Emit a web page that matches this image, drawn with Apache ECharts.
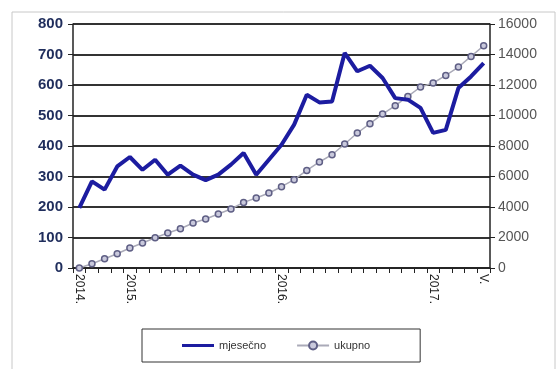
<!DOCTYPE html>
<html>
<head>
<meta charset="utf-8">
<script src="https://cdn.jsdelivr.net/npm/echarts@6/dist/echarts.min.js"></script>
<style>
  html, body { margin: 0; padding: 0; background: #fff; }
  #chart { width: 560px; height: 369px; }
</style>
</head>
<body>
<div id="chart"></div>
<script>
  // mjeseci od IX. 2014. do V. 2017.
  var months = [
    '2014-09', '2014-10', '2014-11', '2014-12',
    '2015-01', '2015-02', '2015-03', '2015-04', '2015-05', '2015-06',
    '2015-07', '2015-08', '2015-09', '2015-10', '2015-11', '2015-12',
    '2016-01', '2016-02', '2016-03', '2016-04', '2016-05', '2016-06',
    '2016-07', '2016-08', '2016-09', '2016-10', '2016-11', '2016-12',
    '2017-01', '2017-02', '2017-03', '2017-04', '2017-05'
  ]
  var tickLabels = {
    '2014-09': '2014.',
    '2015-01': '2015.',
    '2016-01': '2016.',
    '2017-01': '2017.',
    '2017-05': 'V.'
  }
  var mjesecno = [
    197, 284, 257, 333, 364, 322, 355, 306, 336, 306, 288,
    306, 339, 377, 306, 355, 404, 470, 568, 543, 546, 705,
    645, 663, 623, 557, 552, 525, 443, 453, 590, 628, 672
  ]
  var ukupno = [
    0, 282, 610, 938, 1311, 1639, 1987, 2295, 2577, 2951, 3213,
    3541, 3869, 4302, 4590, 4918, 5330, 5790, 6400, 6951, 7429, 8131,
    8852, 9462, 10098, 10642, 11252, 11869, 12131, 12630, 13180, 13875, 14577
  ]

  var dom = echarts.init(document.getElementById('chart'))
  var option = {
    animation: false,
    textStyle: { fontFamily: 'Liberation Sans, Arial, sans-serif' },
    graphic: [
      {
        type: 'rect',
        shape: { x: 12, y: 12, width: 543, height: 370 },
        style: { fill: 'none', stroke: '#c8c8c8', lineWidth: 1 },
        z: -1
      }
    ],
    grid: { left: 73, right: 70, top: 24, bottom: 101 },
    legend: {
      left: 142,
      top: 329,
      padding: [11, 50, 11, 40],
      itemGap: 30,
      itemWidth: 32,
      itemHeight: 10,
      borderColor: '#333',
      borderWidth: 1,
      textStyle: { color: '#333', fontSize: 11 },
      data: [
        { name: 'mjesečno', icon: 'path://M0,3.5H32V6.5H0Z' },
        { name: 'ukupno' }
      ]
    },
    xAxis: {
      type: 'category',
      boundaryGap: true,
      data: months,
      axisLine: { lineStyle: { color: '#222', width: 1.5 } },
      axisTick: { show: true, interval: 0, length: 5, lineStyle: { color: '#222' } },
      axisLabel: {
        interval: 0,
        rotate: -90,
        color: '#222',
        fontSize: 12,
        margin: 6,
        formatter: function (v) { return tickLabels[v] || '' }
      }
    },
    yAxis: [
      {
        type: 'value',
        min: 0, max: 800, interval: 100,
        axisLine: { show: true, lineStyle: { color: '#222', width: 1.5 } },
        axisTick: { show: true, length: 5, lineStyle: { color: '#222' } },
        axisLabel: { color: '#1f2d5c', fontSize: 15, fontWeight: 'bold', margin: 10 },
        splitLine: { lineStyle: { color: '#333', width: 2 } }
      },
      {
        type: 'value',
        min: 0, max: 16000, interval: 2000,
        position: 'right',
        axisLine: { show: true, lineStyle: { color: '#222', width: 1.5 } },
        axisTick: { show: true, length: 5, lineStyle: { color: '#222' } },
        axisLabel: {
          color: '#555', fontSize: 14, margin: 8,
          formatter: function (v) { return String(v) }
        },
        splitLine: { show: false }
      }
    ],
    series: [
      {
        name: 'mjesečno',
        type: 'line',
        yAxisIndex: 0,
        data: mjesecno,
        showSymbol: false,
        symbol: 'none',
        color: '#1c1ca0',
        lineStyle: { color: '#1c1ca0', width: 4 },
        z: 3
      },
      {
        name: 'ukupno',
        type: 'line',
        yAxisIndex: 1,
        data: ukupno,
        symbol: 'circle',
        symbolSize: 6,
        showAllSymbol: true,
        color: '#6e6e90',
        itemStyle: { color: '#c9c9dc', borderColor: '#5f5f85', borderWidth: 1.5 },
        lineStyle: { color: '#aaaab8', width: 1.5 },
        z: 2
      }
    ]
  }
  dom.setOption(option)
  window.addEventListener('resize', function () { dom.resize() })
</script>
</body>
</html>
